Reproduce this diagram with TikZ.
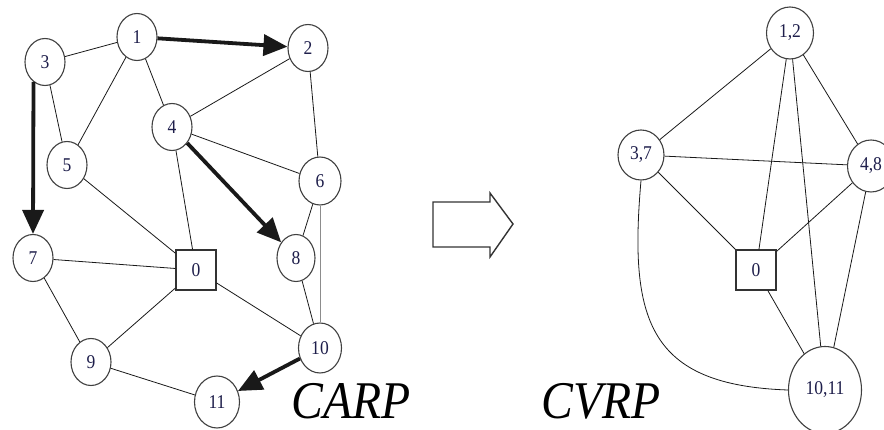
\documentclass[tikz,border=0pt]{standalone}
\usepackage{fontspec}
\setmainfont{Liberation Serif}
\newfontfamily\numfont{Liberation Serif}[FakeStretch=0.9]
\usetikzlibrary{shapes.geometric,arrows.meta}
\definecolor{numink}{RGB}{30,30,75}
\tikzset{
  vtx/.style={ellipse, draw=black!75, line width=1.1pt, fill=white, inner sep=0pt,
    minimum width=40pt, minimum height=47pt, text=numink, font=\numfont\fontsize{19.5}{19.5}\selectfont},
  depot/.style={rectangle, draw=black!80, line width=1.1pt, fill=white, inner sep=0pt,
    minimum width=40pt, minimum height=40pt, text=numink, font=\numfont\fontsize{19.5}{19.5}\selectfont},
  edge/.style={draw=black!90, line width=0.8pt},
  faint/.style={draw=black!45, line width=0.9pt},
  route/.style={draw=black!90, line width=3.8pt, -{Triangle[length=24pt,width=21pt]}},
  title/.style={font=\numfont\itshape\fontsize{53}{53}\selectfont, anchor=base, inner sep=0pt,
    text depth=0pt, text height=36pt}
}
\begin{document}
\begin{tikzpicture}[x=1pt, y=-1pt]
\useasboundingbox (0,0) rectangle (884,430);

% ---- arc routing instance ----
\node[vtx] (n1) at (137,37) {1};
\node[vtx] (n2) at (308,48) {2};
\node[vtx] (n3) at (45,62) {3};
\node[vtx] (n4) at (172,127) {4};
\node[vtx] (n5) at (67,165) {5};
\node[vtx, minimum width=42pt, minimum height=48pt] (n6) at (320,181) {6};
\node[vtx] (n7) at (33,258) {7};
\node[vtx, minimum width=38pt] (n8) at (296,258) {8};
\node[vtx] (n9) at (91,362) {9};
\node[vtx, minimum width=43pt, minimum height=50pt] (n10) at (320,348) {10};
\node[vtx, minimum width=45pt, minimum height=52pt] (n11) at (217,402) {11};
\node[depot] (d0) at (196,270) {0};

\draw[edge] (n3) -- (n1);
\draw[edge] (n1) -- (n5);
\draw[edge] (n1) -- (n4);
\draw[edge] (n3) -- (n5);
\draw[edge] (n2) -- (n4);
\draw[edge] (n2) -- (n6);
\draw[edge] (n4) -- (n6);
\draw[edge] (n4) -- (d0);
\draw[edge] (n5) -- (d0);
\draw[edge] (n6) -- (n8);
\draw[faint] (n6) -- (n10);
\draw[edge] (n7) -- (d0);
\draw[edge] (n7) -- (n9);
\draw[edge] (n9) -- (d0);
\draw[edge] (d0) -- (n10);
\draw[edge] (n8) -- (n10);
\draw[edge] (n9) -- (n11);

\draw[route] (n1) -- (n2);
\draw[route] (n3.240) -- (n7.north);
\draw[route] (n4) -- (n8);
\draw[route] (n10) -- (n11);

\node[title] (carp) at (351,418) {CARP};

% ---- transformation arrow ----
\draw[draw=black!80, line width=1.4pt, line join=miter]
  (433,202) -- (490,202) -- (490,193) -- (513,224) -- (490,257) -- (490,247) -- (433,247) -- cycle;

% ---- node routing instance ----
\node[vtx, minimum width=47pt, minimum height=52pt] (m12) at (790,33) {1,2};
\node[vtx, minimum width=46pt, minimum height=50pt] (m37) at (641,155) {3,7};
\node[vtx, minimum width=47pt, minimum height=52pt] (m48) at (871,166) {4,8};
\node[vtx, minimum width=73pt, minimum height=87pt] (m1011) at (825,390) {10,11};
\node[depot] (m0) at (756,270) {0};

\draw[edge] (m12) -- (m37);
\draw[edge] (m12) -- (m0);
\draw[edge] (m12) -- (m1011);
\draw[edge] (m12) -- (m48);
\draw[edge] (m37) -- (m48);
\draw[edge] (m37) -- (m0);
\draw[edge] (m37.south) to[out=265, in=178, looseness=1.4] (m1011.west);
\draw[edge] (m48) -- (m0);
\draw[edge] (m48) -- (m1011);
\draw[edge] (m0) -- (m1011);

\node[title] (cvrp) at (601,418) {CVRP};
\end{tikzpicture}
\end{document}
